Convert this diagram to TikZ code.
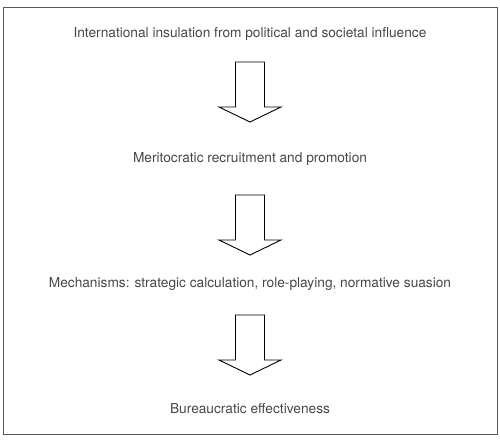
\documentclass[tikz,border=0pt]{standalone}
\usepackage{fontspec}
\setmainfont{TeX Gyre Heros}
\begin{document}
\begin{tikzpicture}[x=1pt,y=-1pt,
  lbl/.style={font=\fontsize{13.7}{16}\selectfont, text=black!72, inner sep=0pt, anchor=center},
  blockarrow/.style={draw=black, line width=0.9pt, fill=white, line join=miter}]
\useasboundingbox (0,0) rectangle (500,442);
\draw[draw=black!65, line width=1pt] (3,7) rectangle (497.5,434);
\node[lbl] (t1) at (250,34) {International insulation from political and societal influence};
\node[lbl] (t2) at (250,159) {Meritocratic recruitment and promotion};
\node[lbl] (t3) at (250,284) {Mechanisms: strategic calculation, role-playing, normative suasion};
\node[lbl] (t4) at (250,409) {Bureaucratic effectiveness};
\foreach \n/\y in {a1/62, a2/195, a3/315} {
  \coordinate (\n) at (250,\y);
  \draw[blockarrow] ([xshift=-14.5]\n) -- ([xshift=14.5]\n) -- ([xshift=14.5,yshift=-45]\n)
    -- ([xshift=31,yshift=-45]\n) -- ([yshift=-60]\n) -- ([xshift=-31,yshift=-45]\n)
    -- ([xshift=-14.5,yshift=-45]\n) -- cycle;
}
\end{tikzpicture}
\end{document}
